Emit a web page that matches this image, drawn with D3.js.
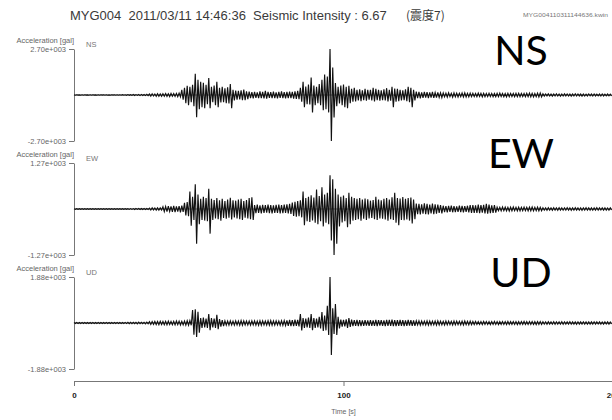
<!DOCTYPE html>
<html>
<head>
<meta charset="utf-8">
<script src="https://cdn.jsdelivr.net/npm/d3@7"></script>
<style>
  html, body { margin: 0; padding: 0; background: #fff; }
  svg { display: block; }
</style>
</head>
<body>
<svg id="chart" width="612" height="420"></svg>
<script>
// ---- record header ----
const stationTitle = "MYG004  2011/03/11 14:46:36  Seismic Intensity : 6.67";
const intensityText = "(震度7)";
const fileTag = "MYG004110311144636.kwin";

// ---- components and full-scale peaks (gal) ----
const components = ["NS", "EW", "UD"];
const peakGal = [2700, 1270, 1880];
const timeTicks = [0, 100, 200];

// ---- per-second positive / negative peak acceleration (gal), t = 0..199 s ----
const nsUp = [
  10,12,10,15,12,10,12,15,10,12, 12,15,12,10,15,12,12,15,18,15,
  25,20,30,25,30,35,30,40,55,70, 60,80,65,75,85,70,90,80,95,110,
  300,420,540,480,600,1240,900,780,720,600, 1000,480,560,780,420,480,400,450,640,300,
  260,240,280,320,220,200,170,190,160,210, 180,240,190,170,200,160,180,210,170,190,
  200,180,220,250,420,780,500,620,1020,560, 480,640,900,1200,1080,2700,1620,700,480,560,
  620,480,540,360,420,300,340,280,360,300, 300,420,360,300,280,340,400,300,480,380,
  360,300,280,340,480,420,300,200,180,160, 190,170,150,180,140,160,130,120,110,130,
  100,120,110,100,120,130,100,110,100,90, 110,95,100,85,105,95,90,100,110,90,
  85,100,95,90,105,95,85,90,100,110, 95,90,110,120,70,60,65,55,60,70,
  55,60,65,60,55,60,70,60,55,60, 50,60,55,60,50,55,60,50,55,50
];
const nsDown = [
  12,10,15,12,10,12,15,10,12,15, 10,12,15,12,10,12,15,12,15,18,
  20,25,30,25,35,30,35,40,65,60, 75,70,80,70,80,90,75,85,100,105,
  280,480,600,420,660,1300,840,720,780,540, 780,420,600,720,440,420,480,500,780,320,
  280,260,300,300,240,180,200,170,190,180, 200,220,170,190,180,200,170,190,200,180,
  190,210,230,240,400,720,540,560,1020,600, 480,600,900,840,1020,2700,1320,660,500,600,
  720,780,480,400,380,320,360,300,340,280, 320,380,300,340,300,320,380,340,720,400,
  360,320,300,360,420,720,320,180,200,170, 160,190,150,170,160,140,150,110,120,100,
  130,110,120,100,110,120,110,100,95,100, 90,110,100,95,90,100,105,95,90,100,
  110,95,90,100,95,105,90,100,95,105, 110,100,120,115,65,55,60,65,55,60,
  70,60,55,60,65,55,60,55,65,60, 55,50,60,55,50,60,55,50,50,55
];
const ewUp = [
  8,10,8,7,9,10,8,9,8,10, 8,9,10,8,9,10,9,8,10,9,
  10,12,11,13,12,14,13,15,25,30, 28,32,30,60,70,80,75,85,70,80,
  90,170,190,480,340,680,400,280,340,300, 560,280,250,300,240,280,220,260,310,240,
  230,260,280,220,250,300,320,110,120,100, 115,105,120,110,100,115,125,110,120,130,
  140,180,200,220,240,480,300,340,380,320, 540,360,600,400,450,930,820,560,400,340,
  370,300,450,340,300,280,300,260,290,270, 230,250,340,260,240,280,300,260,320,450,
  300,290,330,280,300,320,260,150,140,130, 160,140,120,150,130,120,110,90,80,85,
  95,80,75,90,85,80,90,110,110,100, 120,105,115,140,120,100,110,50,45,55,
  50,45,50,55,45,50,48,52,45,50, 55,45,50,48,35,32,36,30,34,32,
  35,30,33,35,32,30,34,32,30,33, 35,30,32,30,34,30,32,30,28,30
];
const ewDown = [
  8,9,10,8,9,8,10,9,8,9, 10,8,9,10,8,9,8,10,9,10,
  11,12,13,12,14,13,14,15,28,26, 30,32,28,70,75,65,80,85,75,90,
  80,180,200,460,300,960,420,300,320,340, 680,300,260,280,320,250,270,240,290,230,
  260,280,300,240,260,280,300,115,105,120, 110,100,115,125,110,105,120,115,110,125,
  135,190,210,200,230,450,340,360,320,380, 420,340,480,380,420,870,1270,960,480,370,
  340,500,420,320,300,280,320,270,300,260, 250,280,300,260,270,290,320,280,300,380,
  450,300,310,290,320,400,280,140,150,130, 140,150,120,140,130,110,120,85,90,80,
  90,85,80,85,90,80,95,110,105,110, 115,100,120,130,115,105,100,48,52,45,
  50,55,48,45,50,52,48,45,50,48, 52,45,50,48,33,35,30,34,32,35,
  30,33,32,30,34,32,30,33,35,30, 32,30,33,30,32,28,30,32,30,28
];
const udUp = [
  18,20,22,18,20,22,20,18,22,20, 20,22,18,20,22,20,18,22,20,24,
  25,28,30,28,32,30,28,32,55,60, 65,60,70,65,70,75,65,70,80,75,
  70,80,90,100,530,560,460,200,220,180, 370,200,180,330,160,120,90,80,85,75,
  90,80,100,85,80,75,90,85,80,95, 85,80,90,100,85,90,80,95,100,110,
  130,120,140,130,370,200,180,220,370,200, 180,250,450,300,700,1880,600,780,250,140,
  130,150,200,140,120,130,120,110,120,110, 120,110,130,115,120,110,125,130,140,120,
  115,125,120,110,130,115,110,90,85,80, 75,85,80,75,80,85,75,70,80,75,
  70,80,75,70,75,80,70,75,60,65, 55,60,65,60,55,60,65,60,55,60,
  58,62,55,60,58,55,60,62,55,58, 60,55,58,60,50,48,52,45,50,48,
  45,50,48,45,50,46,44,48,45,50, 46,44,45,48,44,45,42,44,45,42
];
const udDown = [
  20,18,22,20,18,22,20,22,18,20, 22,20,18,22,20,18,22,20,22,24,
  28,26,30,32,28,30,32,30,60,55, 65,70,60,70,75,65,70,75,70,80,
  75,85,90,95,480,570,400,200,180,200, 290,180,200,250,150,130,85,90,80,85,
  80,95,90,80,85,90,80,85,95,90, 80,85,90,95,85,80,90,95,100,120,
  125,130,120,140,300,200,180,200,290,200, 180,220,330,300,490,1310,450,490,220,150,
  140,200,160,130,120,130,125,120,110,115, 115,120,125,110,120,125,115,120,130,125,
  120,115,125,120,110,120,115,80,85,75, 80,85,80,75,85,80,75,80,75,70,
  80,75,70,75,80,70,75,72,62,58, 60,65,55,60,62,58,60,65,55,60,
  62,58,55,60,62,58,55,60,58,55, 60,62,55,58,48,50,46,48,52,45,
  48,50,46,44,48,45,50,46,44,45, 48,44,46,45,42,44,45,42,44,42
];

const upSeries = [nsUp, ewUp, udUp];
const downSeries = [nsDown, ewDown, udDown];

// ---- layout ----
const W = 612, H = 420;
const axisX = 74;
const panelTop0 = 49, panelStep = 114, panelHeight = 92;
const timeAxisY = 381;

const svg = d3.select("#chart");
svg.append("rect").attr("width", W).attr("height", H).attr("fill", "#fff");

const x = d3.scaleLinear().domain([0, 200]).range([axisX, 613]);

// exponent written with three digits, e.g. 2.70e+003
const sciFmt = v => d3.format(".2e")(v).replace("−", "-")
  .replace(/e([+-])(\d+)$/, (m, s, d) => "e" + s + d.padStart(3, "0"));

const axisFont = "'Liberation Sans', Arial, sans-serif";

// header
svg.append("text")
  .attr("x", 70).attr("y", 20)
  .attr("font-family", axisFont).attr("font-size", 13)
  .attr("fill", "#3a3a3a")
  .style("white-space", "pre")
  .text(stationTitle);
svg.append("text")
  .attr("x", 406).attr("y", 20)
  .attr("font-family", "'Noto Sans CJK JP', sans-serif").attr("font-size", 12)
  .attr("fill", "#3a3a3a")
  .text(intensityText);
svg.append("text")
  .attr("x", 523).attr("y", 17)
  .attr("font-family", axisFont).attr("font-size", 5)
  .attr("fill", "#777")
  .attr("textLength", 85).attr("lengthAdjust", "spacingAndGlyphs")
  .text(fileTag);

components.forEach((comp, i) => {
  const top = panelTop0 + panelStep * i;
  const bottom = top + panelHeight;
  const peak = peakGal[i];
  const y = d3.scaleLinear().domain([-peak, peak]).range([bottom, top]);

  const g = svg.append("g");

  // zero line
  g.append("line")
    .attr("x1", x(0)).attr("x2", W)
    .attr("y1", y(0)).attr("y2", y(0))
    .attr("stroke", "#777").attr("stroke-width", 1);

  // acceleration axis with the two full-scale ticks
  const ax = g.append("g")
    .attr("transform", `translate(${axisX},0)`)
    .call(d3.axisLeft(y).tickValues([-peak, peak]).tickSize(5).tickSizeOuter(0)
      .tickPadding(3).tickFormat(sciFmt));
  ax.select(".domain").attr("stroke", "#777");
  ax.selectAll(".tick line").attr("stroke", "#777");
  ax.selectAll(".tick text")
    .attr("font-family", axisFont).attr("font-size", 7.5).attr("fill", "#666");

  g.append("text")
    .attr("x", axisX).attr("y", top - 6)
    .attr("text-anchor", "end")
    .attr("font-family", axisFont).attr("font-size", 7.5).attr("fill", "#666")
    .text("Acceleration [gal]");

  g.append("text")
    .attr("x", 86).attr("y", top - 2)
    .attr("font-family", axisFont).attr("font-size", 7.5).attr("fill", "#777")
    .text(comp);

  // waveform: each second contributes its positive then its negative peak
  const pts = [];
  upSeries[i].forEach((v, k) => {
    pts.push([k, v]);
    pts.push([k + 0.5, -downSeries[i][k]]);
  });
  g.append("path")
    .datum(pts)
    .attr("fill", "none")
    .attr("stroke", "#111")
    .attr("stroke-width", 1.15)
    .attr("stroke-linejoin", "miter")
    .attr("d", d3.line().x(d => x(d[0])).y(d => y(d[1])));

  // large component caption
  svg.append("text")
    .attr("x", 521).attr("y", [65, 168, 287][i])
    .attr("text-anchor", "middle")
    .attr("font-family", "Lato, 'Open Sans', sans-serif").attr("font-size", 41)
    .attr("fill", "#000")
    .text(comp);
});

// time axis
const tx = svg.append("g")
  .attr("transform", `translate(0,${timeAxisY})`)
  .call(d3.axisBottom(x).tickValues(timeTicks).tickSize(5).tickSizeOuter(0)
    .tickPadding(6).tickFormat(d3.format("d")));
tx.select(".domain").attr("stroke", "#777");
tx.selectAll(".tick line").attr("stroke", "#777");
tx.selectAll(".tick text")
  .attr("font-family", axisFont).attr("font-size", 8).attr("font-weight", "bold")
  .attr("fill", "#222");

svg.append("text")
  .attr("x", x(100)).attr("y", 414)
  .attr("text-anchor", "middle")
  .attr("font-family", axisFont).attr("font-size", 7).attr("fill", "#666")
  .text("Time [s]");
</script>
</body>
</html>
